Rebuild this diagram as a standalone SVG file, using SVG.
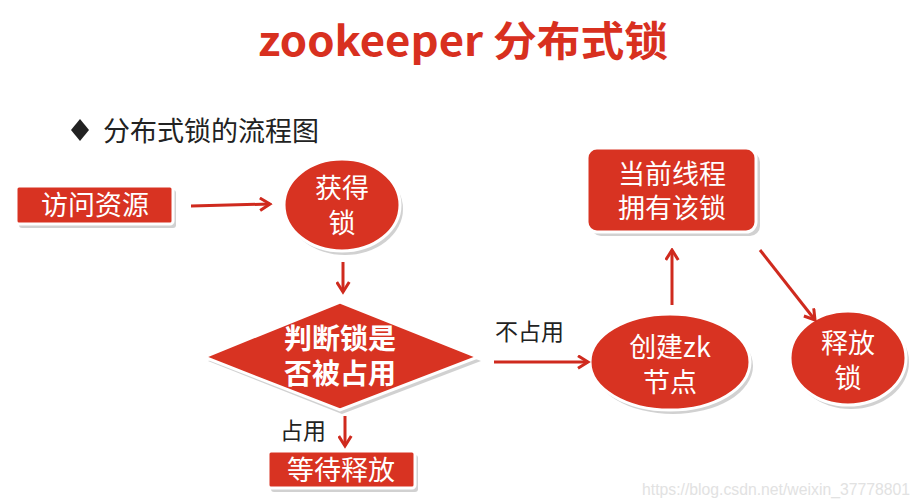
<svg xmlns="http://www.w3.org/2000/svg" width="920" height="504" viewBox="0 0 920 504">
<style>
.node{fill:#d83322;stroke:#fff;stroke-width:3}
.sh{fill:#9a9a9a;opacity:0.45}
.nt{fill:#fff;font-family:"Noto Sans CJK SC","Liberation Sans",sans-serif;font-size:27px;text-anchor:middle}
.bt{font-weight:bold;font-size:28px}
.lab{fill:#222;font-family:"Noto Sans CJK SC","Liberation Sans",sans-serif;font-size:23px}
.con{stroke:#cf2a1e;stroke-width:3;fill:none;marker-end:url(#ah)}
</style>
<defs>
<marker id="ah" viewBox="0 0 12 12" refX="10" refY="6" markerWidth="5" markerHeight="5" orient="auto" markerUnits="strokeWidth">
<polyline points="2,1 10,6 2,11" fill="none" stroke="#cf2a1e" stroke-width="2.4" stroke-linejoin="miter"/>
</marker>
</defs>
<rect width="920" height="504" fill="#fff"/>
<text x="258" y="56" textLength="410" lengthAdjust="spacingAndGlyphs" font-family="'Noto Sans CJK SC','Liberation Sans',sans-serif" font-weight="bold" font-size="41" fill="#d8301f">zookeeper 分布式锁</text>
<g id="subtitle">
<polygon points="80,119 89,130 80,141 71,130" fill="#222"/>
<text x="103" y="141" font-family="'Noto Sans CJK SC','Liberation Sans',sans-serif" font-size="27" fill="#222">分布式锁的流程图</text>
</g>
<g id="n_access">
<rect class="sh" x="19" y="190" width="157" height="38" rx="3"/>
<rect class="node" x="16" y="186" width="157" height="38" rx="3"/>
<text class="nt" x="95" y="215">访问资源</text>
</g>
<g id="n_get">
<ellipse class="sh" cx="345" cy="209" rx="58" ry="46"/>
<ellipse class="node" cx="342" cy="205" rx="58" ry="46"/>
<text class="nt" x="342" y="198">获得</text>
<text class="nt" x="342" y="233">锁</text>
</g>
<g id="n_judge">
<polygon class="sh" points="208,361 342,307 481,361 342,414"/>
<polygon class="node" points="204,357 340,302 478,357 340,410"/>
<text class="nt bt" x="340" y="349">判断锁是</text>
<text class="nt bt" x="340" y="384">否被占用</text>
</g>
<g id="n_wait">
<rect class="sh" x="271" y="455" width="147" height="37" rx="3"/>
<rect class="node" x="268" y="451" width="147" height="37" rx="3"/>
<text class="nt" x="341" y="480">等待释放</text>
</g>
<g id="n_create">
<ellipse class="sh" cx="673" cy="366" rx="80" ry="48"/>
<ellipse class="node" cx="670" cy="362" rx="80" ry="48"/>
<text class="nt" x="670" y="357">创建zk</text>
<text class="nt" x="670" y="392">节点</text>
</g>
<g id="n_own">
<rect class="sh" x="591" y="152" width="169" height="84" rx="10"/>
<rect class="node" x="587" y="148" width="169" height="84" rx="10"/>
<text class="nt" x="672" y="184">当前线程</text>
<text class="nt" x="672" y="218">拥有该锁</text>
</g>
<g id="n_release">
<ellipse class="sh" cx="851" cy="362" rx="58" ry="47"/>
<ellipse class="node" cx="848" cy="358" rx="58" ry="47"/>
<text class="nt" x="848" y="353">释放</text>
<text class="nt" x="848" y="388">锁</text>
</g>
<g id="connectors">
<line class="con" x1="191" y1="206" x2="270" y2="204"/>
<line class="con" x1="343" y1="262" x2="343" y2="292"/>
<line class="con" x1="345" y1="416" x2="345" y2="446"/>
<line class="con" x1="494" y1="362" x2="588" y2="362"/>
<line class="con" x1="672" y1="305" x2="672" y2="250"/>
<line class="con" x1="760" y1="250" x2="815" y2="320"/>
<text class="lab" x="280" y="439">占用</text>
<text class="lab" x="495" y="340">不占用</text>
</g>
<text x="642" y="495" textLength="268" lengthAdjust="spacingAndGlyphs" font-family="'Liberation Sans',sans-serif" font-size="16" fill="#e2e2e2">https://blog.csdn.net/weixin_37778801</text>
</svg>
